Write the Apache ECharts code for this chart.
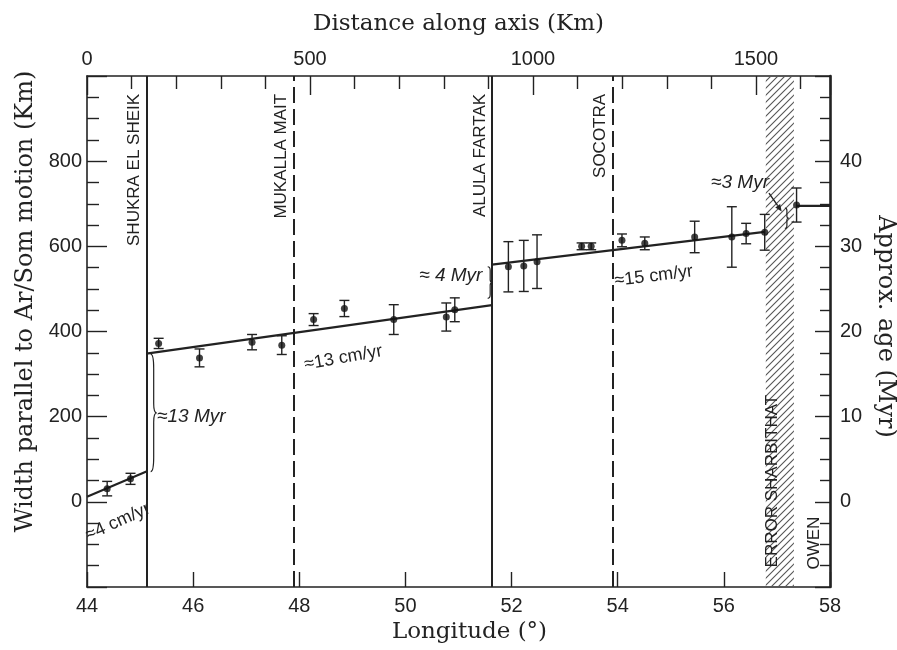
<!DOCTYPE html>
<html><head><meta charset="utf-8">
<script src="https://cdn.jsdelivr.net/npm/echarts@6/dist/echarts.min.js"></script>
<style>html,body{margin:0;padding:0;background:#fff}#c{width:897px;height:650px}</style>
</head><body><div id="c"></div>
<script>
// ---- data ----
const pointLon   = [44.38, 44.82, 45.35, 46.12, 47.11, 47.67, 48.27, 48.85, 49.78, 50.77, 50.93, 51.94, 52.23, 52.48, 53.32, 53.50, 54.08, 54.51, 55.45, 56.15, 56.42, 56.77, 57.37];
const pointWidth = [31, 54, 372, 338, 375, 368, 428, 454, 428, 434, 451, 552, 554, 564, 600, 600, 614, 607, 622, 622, 630, 633, 697];
const pointErr   = [17, 13, 12, 21, 18, 22, 14, 19, 35, 33, 28, 59, 60, 63, 8, 8, 15, 15, 37, 71, 24, 42, 40];

const segStartLon   = [44.0, 45.12, 51.63, 57.37];
const segStartWidth = [12, 348, 557, 695];
const segEndLon     = [45.12, 51.63, 56.77, 58.0];
const segEndWidth   = [71, 462, 634, 695];

const boundaryLon    = [45.12, 47.89, 51.63, 53.90];
const boundaryName   = ['SHUKRA EL SHEIK', 'MUKALLA MAIT', 'ALULA FARTAK', 'SOCOTRA'];
const boundaryDashed = [false, true, false, true];

const errorZoneLon = [56.79, 57.32];

const lonTickLabels  = [44, 46, 48, 50, 52, 54, 56, 58];
const widthTickLabels = [0, 200, 400, 600, 800];
const ageTickLabels  = [0, 10, 20, 30, 40];
const distTickLabels = [0, 500, 1000, 1500];

// ---- annotations (layout, in data coordinates) ----
const notes = [
  {text:'≈4 cm/yr',  lon:44.585, w:-47, rot:24, align:'center', font:'18px "Liberation Sans", Arial'},
  {text:'≈13 Myr',   lon:45.32,  w:201, rot:0,  align:'left',   font:'italic 19px "Liberation Sans", Arial'},
  {text:'≈13 cm/yr', lon:48.83,  w:338, rot:10, align:'center', font:'18px "Liberation Sans", Arial'},
  {text:'≈ 4 Myr',   lon:51.45,  w:530, rot:0,  align:'right',  font:'italic 19px "Liberation Sans", Arial'},
  {text:'≈15 cm/yr', lon:54.68,  w:530, rot:7,  align:'center', font:'18px "Liberation Sans", Arial'},
  {text:'≈3 Myr',    lon:56.85,  w:750, rot:0,  align:'right',  font:'italic 19px "Liberation Sans", Arial'},
  {text:'ERROR SHARBITHAT', lon:56.92, w:-154, rot:90, align:'left', font:'17px "Liberation Sans", Arial'},
  {text:'OWEN',      lon:57.70,  w:-159, rot:90, align:'left',  font:'17px "Liberation Sans", Arial'}
];
const braces = [
  {lon:45.20, w0:347, w1:71,  tip:6},
  {lon:51.55, w0:552, w1:478, tip:5},
  {lon:57.15, w0:690, w1:642, tip:4}
];
const arrow = {lon0:56.85, w0:725, lon1:57.09, w1:682};

// hatch pattern
const pc = document.createElement('canvas');
pc.width = 7; pc.height = 7;
const pctx = pc.getContext('2d');
pctx.strokeStyle = '#555'; pctx.lineWidth = 1.1;
pctx.beginPath();
pctx.moveTo(-1, 8); pctx.lineTo(8, -1);
pctx.moveTo(-4, 4); pctx.lineTo(4, -4);
pctx.moveTo(3, 11); pctx.lineTo(11, 3);
pctx.stroke();

const ink = '#222';
const chart = echarts.init(document.getElementById('c'), null, {renderer:'canvas'});

const series = [];
// fit segments
for (let i = 0; i < segStartLon.length; i++) {
  series.push({
    type:'line', xAxisIndex:0, yAxisIndex:0, symbol:'none', silent:true,
    lineStyle:{color:ink, width:2.2},
    data:[[segStartLon[i], segStartWidth[i]], [segEndLon[i], segEndWidth[i]]],
    z:5
  });
}
// boundaries + error zone
series.push({
  type:'line', xAxisIndex:0, yAxisIndex:0, data:[], silent:true,
  markLine:{
    symbol:'none', silent:true, label:{show:false},
    data: boundaryLon.map((x,i)=>({xAxis:x, lineStyle:{color:ink, width:2, type: boundaryDashed[i] ? [16,6] : 'solid'}}))
  },
  markArea:{
    silent:true,
    itemStyle:{color:{image:pc, repeat:'repeat'}},
    data:[[{xAxis:errorZoneLon[0]},{xAxis:errorZoneLon[1]}]]
  }
});
// error bars
series.push({
  type:'custom', xAxisIndex:0, yAxisIndex:0, clip:false, z:6,
  data: pointLon.map((x,i)=>[x, pointWidth[i], pointErr[i]]),
  renderItem: function(params, api){
    const x = api.value(0), y = api.value(1), e = api.value(2);
    const top = api.coord([x, y+e]), bot = api.coord([x, y-e]);
    const hw = 5;
    return {type:'group', children:[
      {type:'line', shape:{x1:top[0], y1:top[1], x2:bot[0], y2:bot[1]}, style:{stroke:ink, lineWidth:1.4}},
      {type:'line', shape:{x1:top[0]-hw, y1:top[1], x2:top[0]+hw, y2:top[1]}, style:{stroke:ink, lineWidth:1.4}},
      {type:'line', shape:{x1:bot[0]-hw, y1:bot[1], x2:bot[0]+hw, y2:bot[1]}, style:{stroke:ink, lineWidth:1.4}}
    ]};
  }
});
// points
series.push({
  type:'scatter', xAxisIndex:0, yAxisIndex:0, symbol:'circle', symbolSize:7, z:7,
  itemStyle:{color:'#111'},
  data: pointLon.map((x,i)=>[x, pointWidth[i]])
});
// boundary labels
series.push({
  type:'custom', xAxisIndex:0, yAxisIndex:0, clip:false, z:8, silent:true,
  data: boundaryLon.map(x=>[x, 958]),
  renderItem: function(params, api){
    const p = api.coord([api.value(0), api.value(1)]);
    return {type:'text', x:p[0]-12, y:p[1], rotation:Math.PI/2,
      style:{text:boundaryName[params.dataIndex], fill:ink, font:'17px "Liberation Sans", Arial', align:'right', verticalAlign:'middle'}};
  }
});
// notes
series.push({
  type:'custom', xAxisIndex:0, yAxisIndex:0, clip:false, z:8, silent:true,
  data: notes.map(n=>[n.lon, n.w]),
  renderItem: function(params, api){
    const n = notes[params.dataIndex];
    const p = api.coord([n.lon, n.w]);
    return {type:'text', x:p[0], y:p[1], rotation:n.rot*Math.PI/180,
      style:{text:n.text, fill:ink, font:n.font, align:n.align, verticalAlign:'middle'}};
  }
});
// braces
series.push({
  type:'custom', xAxisIndex:0, yAxisIndex:0, clip:false, z:8, silent:true,
  data: braces.map(b=>[b.lon, b.w0]),
  renderItem: function(params, api){
    const b = braces[params.dataIndex];
    const a = api.coord([b.lon, b.w0]), c = api.coord([b.lon, b.w1]);
    const x0 = a[0], y0 = a[1], y1 = c[1], h = y1 - y0, ym = (y0+y1)/2, t = b.tip, xm = x0 + t/2;
    const d = 'M'+x0+' '+y0+' Q'+xm+' '+y0+' '+xm+' '+(y0+h*0.12)+' L'+xm+' '+(ym-h*0.08)+' Q'+xm+' '+ym+' '+(x0+t)+' '+ym+
              ' Q'+xm+' '+ym+' '+xm+' '+(ym+h*0.08)+' L'+xm+' '+(y1-h*0.12)+' Q'+xm+' '+y1+' '+x0+' '+y1;
    return {type:'path', shape:{pathData:d}, style:{stroke:ink, lineWidth:1.2, fill:null}};
  }
});
// arrow for ≈3 Myr
series.push({
  type:'custom', xAxisIndex:0, yAxisIndex:0, clip:false, z:8, silent:true,
  data:[[arrow.lon0, arrow.w0]],
  renderItem: function(params, api){
    const a = api.coord([arrow.lon0, arrow.w0]), b = api.coord([arrow.lon1, arrow.w1]);
    const ang = Math.atan2(b[1]-a[1], b[0]-a[0]);
    const L = 7, W = 3;
    const bx = b[0]-L*Math.cos(ang), by = b[1]-L*Math.sin(ang);
    return {type:'group', children:[
      {type:'line', shape:{x1:a[0], y1:a[1], x2:bx, y2:by}, style:{stroke:ink, lineWidth:1.4}},
      {type:'polygon', shape:{points:[[b[0],b[1]],[bx-W*Math.sin(ang), by+W*Math.cos(ang)],[bx+W*Math.sin(ang), by-W*Math.cos(ang)]]}, style:{fill:ink}}
    ]};
  }
});

const tickFont = {color:ink, fontSize:20, fontFamily:'"Liberation Sans", Arial'};
const titleFont = {color:ink, fontSize:23, fontFamily:'"DejaVu Serif", serif'};
const axisLine = {show:true, onZero:false, lineStyle:{color:ink, width:1.6}};

chart.setOption({
  animation:false,
  backgroundColor:'#fff',
  grid:{left:87, right:67, top:76, bottom:63, containLabel:false, outerBoundsMode:'none'},
  xAxis:[
    {type:'value', position:'bottom', min:44, max:58, interval:2,
     name:'Longitude (°)', nameLocation:'middle', nameGap:33,
     nameTextStyle:Object.assign({padding:[0,0,0,22]}, titleFont),
     axisLine:axisLine, axisTick:{inside:true, length:15, lineStyle:{color:ink, width:1.4}},
     axisLabel:Object.assign({margin:9, formatter:v=>lonTickLabels.includes(v)?String(v):''}, tickFont),
     splitLine:{show:false}},
    {type:'value', position:'top', min:0, max:1666, interval:500,
     name:'Distance along axis (Km)', nameLocation:'middle', nameGap:40, nameTextStyle:titleFont,
     axisLine:axisLine, axisTick:{inside:true, length:19, lineStyle:{color:ink, width:1.4}},
     minorTick:{show:true, splitNumber:5, length:13, lineStyle:{color:ink, width:1.4}},
     axisLabel:Object.assign({margin:7, formatter:v=>distTickLabels.includes(v)?String(v):''}, tickFont),
     splitLine:{show:false}}
  ],
  yAxis:[
    {type:'value', position:'left', min:-200, max:1000, interval:200,
     name:'Width parallel to Ar/Som motion (Km)', nameLocation:'middle', nameGap:45, nameRotate:90,
     nameTextStyle:Object.assign({}, titleFont, {fontSize:24, padding:[0,0,0,60]}),
     axisLine:axisLine, axisTick:{inside:true, length:20, lineStyle:{color:ink, width:1.4}},
     minorTick:{show:true, splitNumber:4, length:12, lineStyle:{color:ink, width:1.4}},
     axisLabel:Object.assign({margin:5, formatter:v=>widthTickLabels.includes(v)?String(v):''}, tickFont),
     splitLine:{show:false}},
    {type:'value', position:'right', min:-10, max:50, interval:10,
     name:'Approx. age (Myr)', nameLocation:'middle', nameGap:42, nameRotate:-90,
     nameTextStyle:Object.assign({}, titleFont, {fontSize:24, padding:[0,10,0,0]}),
     axisLine:{show:true, onZero:false, lineStyle:{color:ink, width:2.6}},
     axisTick:{inside:true, length:15, lineStyle:{color:ink, width:1.4}},
     minorTick:{show:true, splitNumber:4, length:10, lineStyle:{color:ink, width:1.4}},
     axisLabel:Object.assign({margin:10, formatter:v=>ageTickLabels.includes(v)?String(v):''}, tickFont),
     splitLine:{show:false}}
  ],
  series: series
});
</script></body></html>
